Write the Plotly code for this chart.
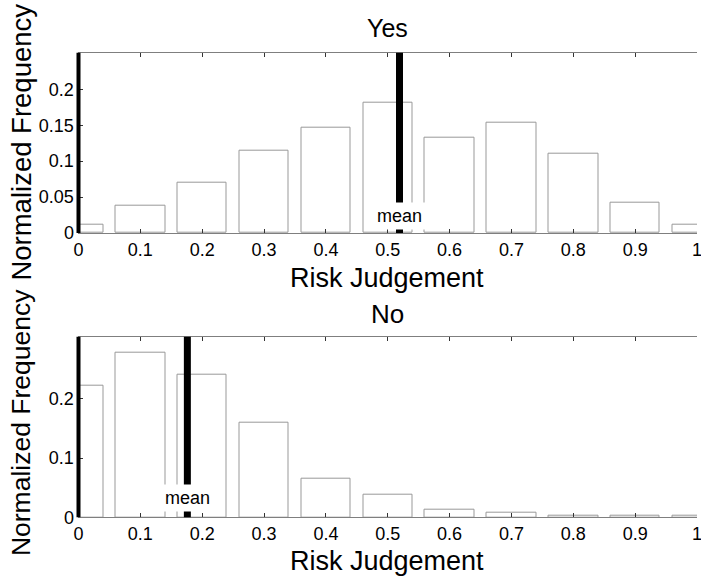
import plotly.graph_objects as go

W, H = 701, 577

bins = [0.0, 0.1, 0.2, 0.3, 0.4, 0.5, 0.6, 0.7, 0.8, 0.9, 1.0]
yes_freq = [0.012, 0.038, 0.070, 0.115, 0.147, 0.181, 0.132, 0.153, 0.111, 0.042, 0.012]
no_freq = [0.222, 0.278, 0.241, 0.160, 0.066, 0.039, 0.013, 0.0085, 0.003, 0.003, 0.003]
yes_mean = 0.519
no_mean = 0.176

x_ticks = [0, 0.1, 0.2, 0.3, 0.4, 0.5, 0.6, 0.7, 0.8, 0.9, 1]
x_ticktext = ["0", "0.1", "0.2", "0.3", "0.4", "0.5", "0.6", "0.7", "0.8", "0.9", "1"]
yes_yticks = [0, 0.05, 0.1, 0.15, 0.2]
yes_yticktext = ["0", "0.05", "0.1", "0.15", "0.2"]
no_yticks = [0, 0.1, 0.2]
no_yticktext = ["0", "0.1", "0.2"]
yes_yrange = [0, 0.251]
no_yrange = [0, 0.305]

FONT = "Liberation Sans, Arial, sans-serif"
GRAY = "#7f7f7f"
BARLINE = "#999999"


def px(p):
    return p / W


def py(p):
    return 1 - p / H


fig = go.Figure()

fig.add_trace(go.Bar(x=bins, y=yes_freq, width=0.08, xaxis="x", yaxis="y",
                     marker=dict(color="white", line=dict(color=BARLINE, width=1)),
                     showlegend=False))
fig.add_trace(go.Bar(x=bins, y=no_freq, width=0.08, xaxis="x2", yaxis="y2",
                     marker=dict(color="white", line=dict(color=BARLINE, width=1)),
                     showlegend=False))

xdom = [px(78.5), px(697)]
top_dom = [py(233), py(52.7)]
bot_dom = [py(517.3), py(336.7)]

common_x = dict(range=[0, 1], tickvals=x_ticks, ticktext=x_ticktext, ticks="inside",
                ticklen=4, tickcolor="#333333", showline=True, linecolor=GRAY, linewidth=1,
                mirror="ticks", showgrid=False, zeroline=False, automargin=False,
                ticklabeloverflow="allow",
                tickfont=dict(size=18, color="black", family=FONT), domain=xdom)

common_y = dict(ticks="inside", ticklen=4, tickcolor="#333333", showline=True,
                linecolor=GRAY, linewidth=1, showgrid=False, zeroline=False,
                automargin=False, ticklabeloverflow="allow")

fig.update_layout(
    width=W, height=H,
    margin=dict(l=0, r=0, t=0, b=0, autoexpand=False),
    paper_bgcolor="white", plot_bgcolor="white",
    font=dict(family=FONT, color="black"),
    bargap=0,
    xaxis=dict(anchor="y", **common_x),
    xaxis2=dict(anchor="y2", **common_x),
    yaxis=dict(domain=top_dom, anchor="x", range=yes_yrange, tickvals=yes_yticks,
               ticktext=yes_yticktext,
               tickfont=dict(size=18, color="black", family=FONT), **common_y),
    yaxis3=dict(overlaying="y", anchor="x", side="right", range=yes_yrange,
                tickvals=yes_yticks, showticklabels=False, **common_y),
    yaxis2=dict(domain=bot_dom, anchor="x2", range=no_yrange, tickvals=no_yticks,
                ticktext=no_yticktext,
                tickfont=dict(size=18, color="black", family=FONT), **common_y),
    yaxis4=dict(overlaying="y2", anchor="x2", side="right", range=no_yrange,
                tickvals=no_yticks, showticklabels=False, **common_y),
)

# thick left spines
fig.add_shape(type="line", xref="x domain", yref="y domain", x0=0, x1=0, y0=0, y1=1,
              line=dict(color="black", width=4))
fig.add_shape(type="line", xref="x2 domain", yref="y2 domain", x0=0, x1=0, y0=0, y1=1,
              line=dict(color="black", width=4))

# mean lines
fig.add_shape(type="line", xref="x", yref="y domain", x0=yes_mean, x1=yes_mean, y0=0, y1=1,
              line=dict(color="black", width=7))
fig.add_shape(type="line", xref="x2", yref="y2 domain", x0=no_mean, x1=no_mean, y0=0, y1=1,
              line=dict(color="black", width=7))

ann_common = dict(showarrow=False, xanchor="center", yanchor="middle")

# mean labels
fig.add_annotation(x=yes_mean, y=py(216.5), xref="x", yref="paper", text="mean",
                   bgcolor="white", borderpad=3,
                   font=dict(size=18, family=FONT, color="black"), **ann_common)
fig.add_annotation(x=no_mean, y=py(498), xref="x2", yref="paper", text="mean",
                   bgcolor="white", borderpad=3,
                   font=dict(size=18, family=FONT, color="black"), **ann_common)

# titles
xc = px((78 + 697) / 2)
fig.add_annotation(x=xc, y=py(28), xref="paper", yref="paper", text="Yes",
                   font=dict(size=25, family=FONT, color="black"), **ann_common)
fig.add_annotation(x=xc, y=py(314), xref="paper", yref="paper", text="No",
                   font=dict(size=26, family=FONT, color="black"), **ann_common)
fig.add_annotation(x=xc, y=py(277.6), xref="paper", yref="paper", text="Risk Judgement",
                   font=dict(size=27, family=FONT, color="black"), **ann_common)
fig.add_annotation(x=xc, y=py(560.6), xref="paper", yref="paper", text="Risk Judgement",
                   font=dict(size=27, family=FONT, color="black"), **ann_common)
fig.add_annotation(x=px(20.6), y=py(142), xref="paper", yref="paper",
                   text="Normalized Frequency", textangle=-90,
                   font=dict(size=27.5, family=FONT, color="black"), **ann_common)
fig.add_annotation(x=px(20.6), y=py(422.5), xref="paper", yref="paper",
                   text="Normalized Frequency", textangle=-90,
                   font=dict(size=26.5, family=FONT, color="black"), **ann_common)

fig.write_html("out.html", config={"displayModeBar": False},
               post_script="document.body.style.margin='0';")
